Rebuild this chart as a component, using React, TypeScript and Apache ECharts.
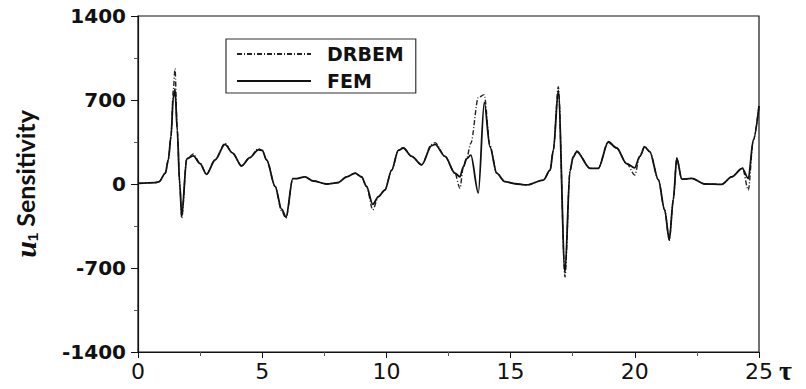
import React, { useEffect, useRef } from 'react';
import * as echarts from 'echarts';

const tau = [0, 0.7, 0.85, 1.1, 1.22, 1.33, 1.42, 1.49, 1.58, 1.68, 1.76, 1.96, 2.23, 2.5, 2.76, 3.1, 3.5, 3.8, 4.17, 4.5, 4.84, 5.0, 5.18, 5.52, 5.78, 5.96, 6.23, 6.39, 6.72, 7.06, 7.6, 8.06, 8.4, 8.74, 9.0, 9.2, 9.45, 9.68, 9.94, 10.21, 10.48, 10.68, 11.02, 11.42, 11.82, 11.96, 12.36, 12.76, 12.96, 13.1, 13.23, 13.4, 13.7, 13.94, 14.17, 14.44, 14.77, 15.18, 15.65, 16.32, 16.59, 16.72, 16.92, 17.19, 17.39, 17.52, 17.66, 18.2, 18.53, 18.93, 19.27, 19.67, 20.0, 20.2, 20.4, 20.6, 20.95, 21.2, 21.39, 21.55, 21.69, 21.89, 22.29, 22.83, 23.5, 23.9, 24.33, 24.57, 24.77, 25];

const femValues = [5, 12, 20, 90, 200, 400, 720, 790, 450, 0, -270, 210, 235, 170, 80, 200, 330, 260, 150, 220, 285, 280, 200, -20, -210, -275, 45, 45, 60, 25, 0, 12, 60, 90, 60, -20, -170, -105, -50, 115, 280, 300, 230, 160, 320, 330, 230, 90, 60, 145, 210, 240, -75, 680, 310, 90, 20, 2, -8, 33, 115, 280, 780, -740, 110, 225, 270, 130, 130, 350, 300, 170, 135, 230, 310, 270, 35, -215, -465, -130, 215, 40, 47, 0, -3, 60, 130, 45, 365, 650];

const drbemValues = [5, 12, 20, 90, 200, 400, 780, 960, 460, 0, -285, 210, 250, 170, 80, 200, 340, 260, 150, 220, 295, 280, 200, -20, -225, -285, 45, 45, 60, 25, 0, 12, 60, 90, 60, -20, -215, -105, -50, 115, 280, 305, 230, 160, 330, 345, 230, 90, -35, 145, 215, 340, 720, 745, 320, 90, 20, 2, -8, 33, 115, 280, 810, -775, 110, 225, 275, 130, 130, 355, 300, 170, 75, 230, 315, 270, 35, -215, -470, -130, 215, 40, 47, 0, -3, 60, 135, -50, 365, 650];

const seriesNames = ['DRBEM', 'FEM'];
const xMin = 0;
const xMax = 25;
const xInterval = 5;
const yMin = -1400;
const yMax = 1400;
const yInterval = 700;

export default function App() {
  const ref = useRef<HTMLDivElement>(null);
  useEffect(() => {
    if (!ref.current) return;
    const chart = echarts.init(ref.current, undefined, { renderer: 'svg' });
    const toPairs = (vals: number[]) => tau.map((t, i) => [t, vals[i]]);
    chart.setOption({
      animation: false,
      backgroundColor: '#fff',
      grid: {
        left: 138, right: 47, top: 16, bottom: 37,
        show: true, borderColor: '#111', borderWidth: 1.2,
      },
      legend: {
        data: seriesNames,
        orient: 'vertical',
        left: 226,
        top: 39,
        itemWidth: 74,
        itemHeight: 14,
        itemGap: 7,
        padding: [5, 12, 2, 10],
        borderColor: '#333',
        borderWidth: 1.2,
        itemStyle: { opacity: 0 },
        textStyle: {
          fontFamily: 'DejaVu Sans', fontWeight: 'bold', fontSize: 19,
          color: '#111', padding: [0, 0, 0, 11], lineHeight: 20,
        },
      },
      xAxis: {
        type: 'value', min: xMin, max: xMax, interval: xInterval,
        name: 'τ', nameLocation: 'end', nameGap: 18,
        nameTextStyle: {
          fontFamily: 'Liberation Serif', fontWeight: 'bold', fontSize: 28,
          color: '#111', verticalAlign: 'top', padding: [4, 0, 0, 0],
        },
        axisLine: { onZero: false, lineStyle: { color: '#111', width: 1.2 } },
        axisTick: { length: 6, lineStyle: { color: '#111' } },
        minorTick: { show: true, splitNumber: 2, length: 4, lineStyle: { color: '#555' } },
        splitLine: { show: false },
        axisLabel: { fontFamily: 'DejaVu Sans', fontSize: 22, color: '#111', margin: 8 },
      },
      yAxis: {
        type: 'value', min: yMin, max: yMax, interval: yInterval,
        name: '{u|u}{s|1}{t| Sensitivity}',
        nameLocation: 'middle', nameRotate: 90, nameGap: 98,
        nameTextStyle: {
          rich: {
            u: { fontFamily: 'Liberation Serif', fontStyle: 'italic', fontWeight: 'bold', fontSize: 30, color: '#111' },
            s: { fontFamily: 'Liberation Sans', fontWeight: 'bold', fontSize: 15, color: '#111', padding: [14, 0, 0, 0] },
            t: { fontFamily: 'Lato', fontWeight: 'bold', fontSize: 25, color: '#111' },
          },
        },
        axisLine: { onZero: false, lineStyle: { color: '#111', width: 1.2 } },
        axisTick: { length: 7, lineStyle: { color: '#111' } },
        minorTick: { show: true, splitNumber: 2, length: 4, lineStyle: { color: '#555' } },
        splitLine: { show: false },
        axisLabel: {
          fontFamily: 'DejaVu Sans', fontWeight: 'bold', fontSize: 20, color: '#111', margin: 12,
          formatter: (v: number) => String(v),
        },
      },
      series: [
        {
          name: seriesNames[0], type: 'line', data: toPairs(drbemValues),
          showSymbol: false, symbol: 'none', smooth: 0.3, smoothMonotone: 'x',
          lineStyle: { color: '#222', width: 1.4, type: [5, 2, 1, 2] },
          itemStyle: { color: '#222' },
        },
        {
          name: seriesNames[1], type: 'line', data: toPairs(femValues),
          showSymbol: false, symbol: 'none', smooth: 0.3, smoothMonotone: 'x',
          lineStyle: { color: '#111', width: 1.8, type: 'solid' },
          itemStyle: { color: '#111' },
        },
      ],
    });
    return () => chart.dispose();
  }, []);
  return <div ref={ref} style={{ width: 806, height: 389, position: 'absolute', left: 0, top: 0 }} />;
}
